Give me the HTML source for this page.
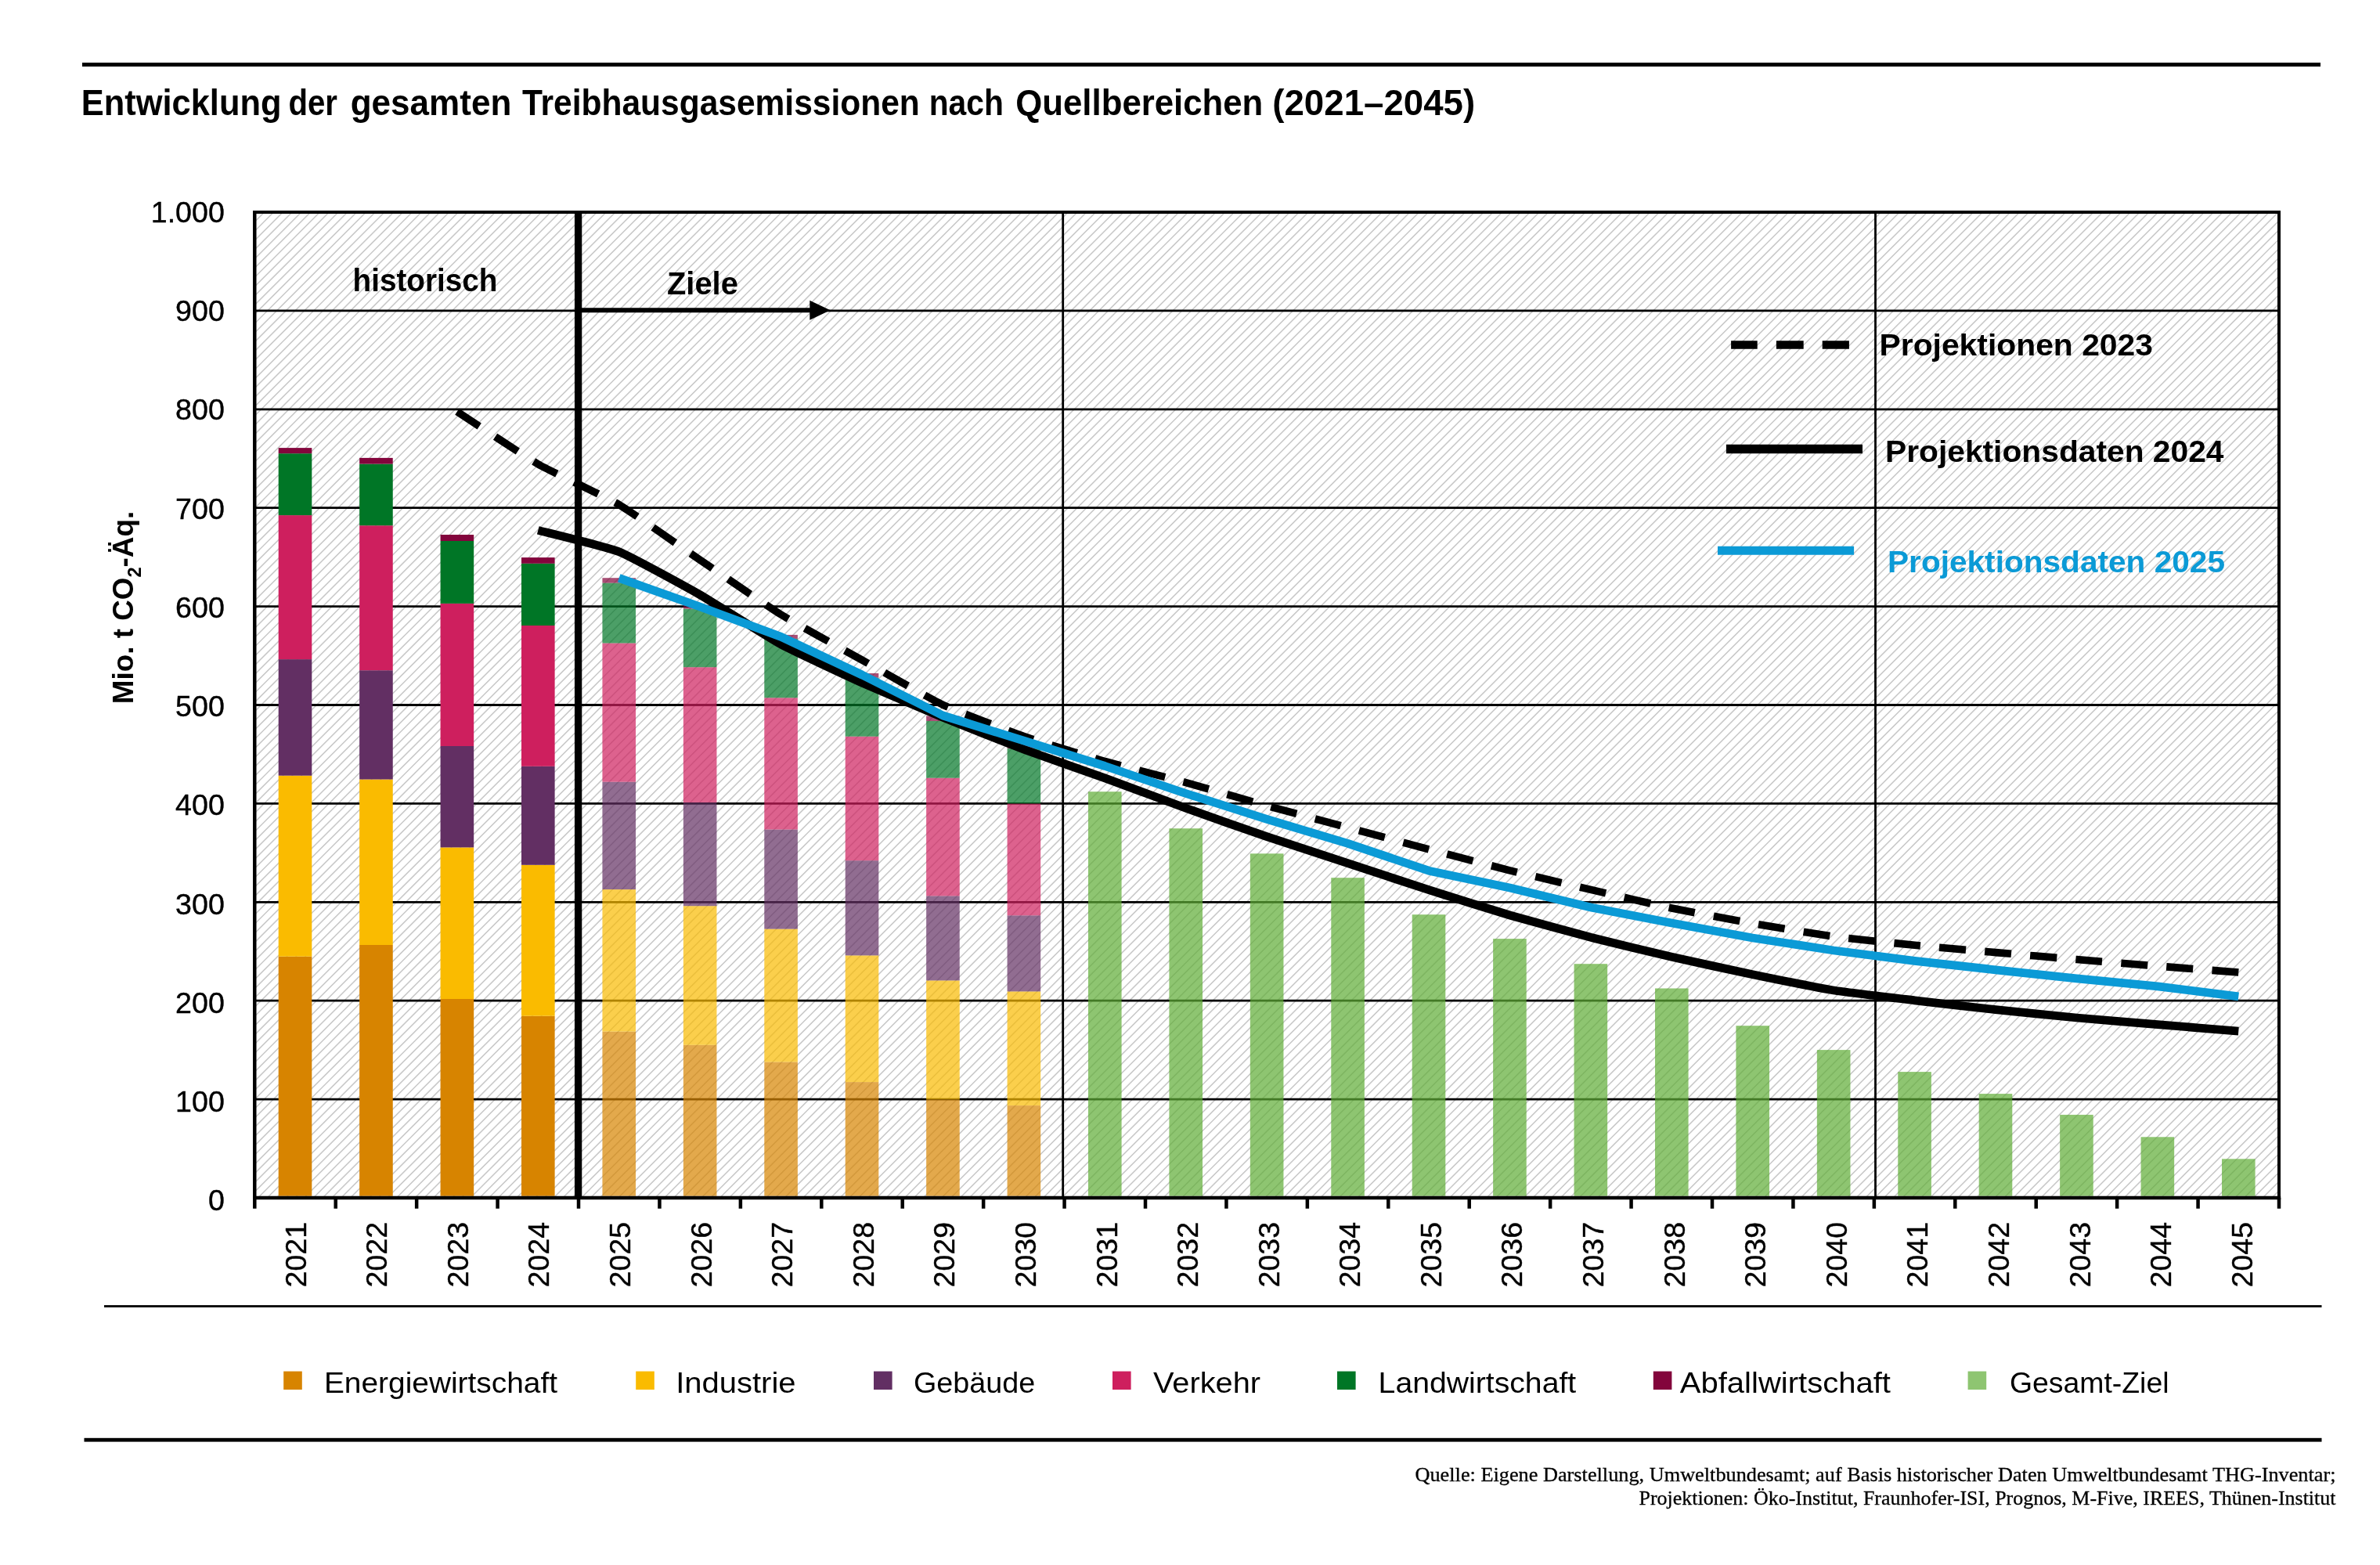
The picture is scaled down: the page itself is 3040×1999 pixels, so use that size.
<!DOCTYPE html>
<html lang="de"><head><meta charset="utf-8">
<title>Entwicklung der gesamten Treibhausgasemissionen nach Quellbereichen (2021–2045)</title>
<style>
html,body{margin:0;padding:0;background:#fff;}
body{width:3040px;height:1999px;overflow:hidden;}
svg{display:block;}
text{font-family:"Liberation Sans",sans-serif;fill:#000;}
svg{will-change:transform;}
.b{font-weight:bold;}
.t{stroke:#000;stroke-width:0.4px;}
.s{font-family:"Liberation Serif",serif;stroke:#000;stroke-width:0.3px;}
</style></head><body>
<svg width="3040" height="1999" viewBox="0 0 3040 1999">
<rect x="0" y="0" width="3040" height="1999" fill="#fff"/>
<rect x="105" y="80" width="2859" height="5" fill="#000"/>
<rect x="133" y="1667.1" width="2832.5" height="2.8" fill="#000"/>
<rect x="107.5" y="1836.8" width="2858" height="4.8" fill="#000"/>
<text class="b" x="103.7" y="146.9" font-size="46" textLength="255.84" lengthAdjust="spacingAndGlyphs">Entwicklung</text>
<text class="b" x="368.4" y="146.9" font-size="46" textLength="62.47" lengthAdjust="spacingAndGlyphs">der</text>
<text class="b" x="447.7" y="146.9" font-size="46" textLength="205.61" lengthAdjust="spacingAndGlyphs">gesamten</text>
<text class="b" x="666.9" y="146.9" font-size="46" textLength="507.89" lengthAdjust="spacingAndGlyphs">Treibhausgasemissionen</text>
<text class="b" x="1186.7" y="146.9" font-size="46" textLength="95.24" lengthAdjust="spacingAndGlyphs">nach</text>
<text class="b" x="1297.3" y="146.9" font-size="46" textLength="316" lengthAdjust="spacingAndGlyphs">Quellbereichen</text>
<text class="b" x="1625.3" y="146.9" font-size="46" textLength="258.8" lengthAdjust="spacingAndGlyphs">(2021–2045)</text>
<defs><clipPath id="pc"><rect x="325.3" y="271" width="2585.7" height="1259"/></clipPath></defs>
<path clip-path="url(#pc)" d="M-935.1 1532L327.9 269M-923.3 1532L339.7 269M-911.5 1532L351.5 269M-899.7 1532L363.3 269M-887.9 1532L375.1 269M-876.1 1532L386.9 269M-864.3 1532L398.7 269M-852.5 1532L410.5 269M-840.7 1532L422.3 269M-828.9 1532L434.1 269M-817.1 1532L445.9 269M-805.3 1532L457.7 269M-793.5 1532L469.5 269M-781.7 1532L481.3 269M-769.9 1532L493.1 269M-758.1 1532L504.9 269M-746.3 1532L516.7 269M-734.5 1532L528.5 269M-722.7 1532L540.3 269M-710.9 1532L552.1 269M-699.1 1532L563.9 269M-687.3 1532L575.7 269M-675.5 1532L587.5 269M-663.7 1532L599.3 269M-651.9 1532L611.1 269M-640.1 1532L622.9 269M-628.3 1532L634.7 269M-616.5 1532L646.5 269M-604.7 1532L658.3 269M-592.9 1532L670.1 269M-581.1 1532L681.9 269M-569.3 1532L693.7 269M-557.5 1532L705.5 269M-545.7 1532L717.3 269M-533.9 1532L729.1 269M-522.1 1532L740.9 269M-510.3 1532L752.7 269M-498.5 1532L764.5 269M-486.7 1532L776.3 269M-474.9 1532L788.1 269M-463.1 1532L799.9 269M-451.3 1532L811.7 269M-439.5 1532L823.5 269M-427.7 1532L835.3 269M-415.9 1532L847.1 269M-404.1 1532L858.9 269M-392.3 1532L870.7 269M-380.5 1532L882.5 269M-368.7 1532L894.3 269M-356.9 1532L906.1 269M-345.1 1532L917.9 269M-333.3 1532L929.7 269M-321.5 1532L941.5 269M-309.7 1532L953.3 269M-297.9 1532L965.1 269M-286.1 1532L976.9 269M-274.3 1532L988.7 269M-262.5 1532L1000.5 269M-250.7 1532L1012.3 269M-238.9 1532L1024.1 269M-227.1 1532L1035.9 269M-215.3 1532L1047.7 269M-203.5 1532L1059.5 269M-191.7 1532L1071.3 269M-179.9 1532L1083.1 269M-168.1 1532L1094.9 269M-156.3 1532L1106.7 269M-144.5 1532L1118.5 269M-132.7 1532L1130.3 269M-120.9 1532L1142.1 269M-109.1 1532L1153.9 269M-97.3 1532L1165.7 269M-85.5 1532L1177.5 269M-73.7 1532L1189.3 269M-61.9 1532L1201.1 269M-50.1 1532L1212.9 269M-38.3 1532L1224.7 269M-26.5 1532L1236.5 269M-14.7 1532L1248.3 269M-2.9 1532L1260.1 269M8.9 1532L1271.9 269M20.7 1532L1283.7 269M32.5 1532L1295.5 269M44.3 1532L1307.3 269M56.1 1532L1319.1 269M67.9 1532L1330.9 269M79.7 1532L1342.7 269M91.5 1532L1354.5 269M103.3 1532L1366.3 269M115.1 1532L1378.1 269M126.9 1532L1389.9 269M138.7 1532L1401.7 269M150.5 1532L1413.5 269M162.3 1532L1425.3 269M174.1 1532L1437.1 269M185.9 1532L1448.9 269M197.7 1532L1460.7 269M209.5 1532L1472.5 269M221.3 1532L1484.3 269M233.1 1532L1496.1 269M244.9 1532L1507.9 269M256.7 1532L1519.7 269M268.5 1532L1531.5 269M280.3 1532L1543.3 269M292.1 1532L1555.1 269M303.9 1532L1566.9 269M315.7 1532L1578.7 269M327.5 1532L1590.5 269M339.3 1532L1602.3 269M351.1 1532L1614.1 269M362.9 1532L1625.9 269M374.7 1532L1637.7 269M386.5 1532L1649.5 269M398.3 1532L1661.3 269M410.1 1532L1673.1 269M421.9 1532L1684.9 269M433.7 1532L1696.7 269M445.5 1532L1708.5 269M457.3 1532L1720.3 269M469.1 1532L1732.1 269M480.9 1532L1743.9 269M492.7 1532L1755.7 269M504.5 1532L1767.5 269M516.3 1532L1779.3 269M528.1 1532L1791.1 269M539.9 1532L1802.9 269M551.7 1532L1814.7 269M563.5 1532L1826.5 269M575.3 1532L1838.3 269M587.1 1532L1850.1 269M598.9 1532L1861.9 269M610.7 1532L1873.7 269M622.5 1532L1885.5 269M634.3 1532L1897.3 269M646.1 1532L1909.1 269M657.9 1532L1920.9 269M669.7 1532L1932.7 269M681.5 1532L1944.5 269M693.3 1532L1956.3 269M705.1 1532L1968.1 269M716.9 1532L1979.9 269M728.7 1532L1991.7 269M740.5 1532L2003.5 269M752.3 1532L2015.3 269M764.1 1532L2027.1 269M775.9 1532L2038.9 269M787.7 1532L2050.7 269M799.5 1532L2062.5 269M811.3 1532L2074.3 269M823.1 1532L2086.1 269M834.9 1532L2097.9 269M846.7 1532L2109.7 269M858.5 1532L2121.5 269M870.3 1532L2133.3 269M882.1 1532L2145.1 269M893.9 1532L2156.9 269M905.7 1532L2168.7 269M917.5 1532L2180.5 269M929.3 1532L2192.3 269M941.1 1532L2204.1 269M952.9 1532L2215.9 269M964.7 1532L2227.7 269M976.5 1532L2239.5 269M988.3 1532L2251.3 269M1000.1 1532L2263.1 269M1011.9 1532L2274.9 269M1023.7 1532L2286.7 269M1035.5 1532L2298.5 269M1047.3 1532L2310.3 269M1059.1 1532L2322.1 269M1070.9 1532L2333.9 269M1082.7 1532L2345.7 269M1094.5 1532L2357.5 269M1106.3 1532L2369.3 269M1118.1 1532L2381.1 269M1129.9 1532L2392.9 269M1141.7 1532L2404.7 269M1153.5 1532L2416.5 269M1165.3 1532L2428.3 269M1177.1 1532L2440.1 269M1188.9 1532L2451.9 269M1200.7 1532L2463.7 269M1212.5 1532L2475.5 269M1224.3 1532L2487.3 269M1236.1 1532L2499.1 269M1247.9 1532L2510.9 269M1259.7 1532L2522.7 269M1271.5 1532L2534.5 269M1283.3 1532L2546.3 269M1295.1 1532L2558.1 269M1306.9 1532L2569.9 269M1318.7 1532L2581.7 269M1330.5 1532L2593.5 269M1342.3 1532L2605.3 269M1354.1 1532L2617.1 269M1365.9 1532L2628.9 269M1377.7 1532L2640.7 269M1389.5 1532L2652.5 269M1401.3 1532L2664.3 269M1413.1 1532L2676.1 269M1424.9 1532L2687.9 269M1436.7 1532L2699.7 269M1448.5 1532L2711.5 269M1460.3 1532L2723.3 269M1472.1 1532L2735.1 269M1483.9 1532L2746.9 269M1495.7 1532L2758.7 269M1507.5 1532L2770.5 269M1519.3 1532L2782.3 269M1531.1 1532L2794.1 269M1542.9 1532L2805.9 269M1554.7 1532L2817.7 269M1566.5 1532L2829.5 269M1578.3 1532L2841.3 269M1590.1 1532L2853.1 269M1601.9 1532L2864.9 269M1613.7 1532L2876.7 269M1625.5 1532L2888.5 269M1637.3 1532L2900.3 269M1649.1 1532L2912.1 269M1660.9 1532L2923.9 269M1672.7 1532L2935.7 269M1684.5 1532L2947.5 269M1696.3 1532L2959.3 269M1708.1 1532L2971.1 269M1719.9 1532L2982.9 269M1731.7 1532L2994.7 269M1743.5 1532L3006.5 269M1755.3 1532L3018.3 269M1767.1 1532L3030.1 269M1778.9 1532L3041.9 269M1790.7 1532L3053.7 269M1802.5 1532L3065.5 269M1814.3 1532L3077.3 269M1826.1 1532L3089.1 269M1837.9 1532L3100.9 269M1849.7 1532L3112.7 269M1861.5 1532L3124.5 269M1873.3 1532L3136.3 269M1885.1 1532L3148.1 269M1896.9 1532L3159.9 269M1908.7 1532L3171.7 269M1920.5 1532L3183.5 269M1932.3 1532L3195.3 269M1944.1 1532L3207.1 269M1955.9 1532L3218.9 269M1967.7 1532L3230.7 269M1979.5 1532L3242.5 269M1991.3 1532L3254.3 269M2003.1 1532L3266.1 269M2014.9 1532L3277.9 269M2026.7 1532L3289.7 269M2038.5 1532L3301.5 269M2050.3 1532L3313.3 269M2062.1 1532L3325.1 269M2073.9 1532L3336.9 269M2085.7 1532L3348.7 269M2097.5 1532L3360.5 269M2109.3 1532L3372.3 269M2121.1 1532L3384.1 269M2132.9 1532L3395.9 269M2144.7 1532L3407.7 269M2156.5 1532L3419.5 269M2168.3 1532L3431.3 269M2180.1 1532L3443.1 269M2191.9 1532L3454.9 269M2203.7 1532L3466.7 269M2215.5 1532L3478.5 269M2227.3 1532L3490.3 269M2239.1 1532L3502.1 269M2250.9 1532L3513.9 269M2262.7 1532L3525.7 269M2274.5 1532L3537.5 269M2286.3 1532L3549.3 269M2298.1 1532L3561.1 269M2309.9 1532L3572.9 269M2321.7 1532L3584.7 269M2333.5 1532L3596.5 269M2345.3 1532L3608.3 269M2357.1 1532L3620.1 269M2368.9 1532L3631.9 269M2380.7 1532L3643.7 269M2392.5 1532L3655.5 269M2404.3 1532L3667.3 269M2416.1 1532L3679.1 269M2427.9 1532L3690.9 269M2439.7 1532L3702.7 269M2451.5 1532L3714.5 269M2463.3 1532L3726.3 269M2475.1 1532L3738.1 269M2486.9 1532L3749.9 269M2498.7 1532L3761.7 269M2510.5 1532L3773.5 269M2522.3 1532L3785.3 269M2534.1 1532L3797.1 269M2545.9 1532L3808.9 269M2557.7 1532L3820.7 269M2569.5 1532L3832.5 269M2581.3 1532L3844.3 269M2593.1 1532L3856.1 269M2604.9 1532L3867.9 269M2616.7 1532L3879.7 269M2628.5 1532L3891.5 269M2640.3 1532L3903.3 269M2652.1 1532L3915.1 269M2663.9 1532L3926.9 269M2675.7 1532L3938.7 269M2687.5 1532L3950.5 269M2699.3 1532L3962.3 269M2711.1 1532L3974.1 269M2722.9 1532L3985.9 269M2734.7 1532L3997.7 269M2746.5 1532L4009.5 269M2758.3 1532L4021.3 269M2770.1 1532L4033.1 269M2781.9 1532L4044.9 269M2793.7 1532L4056.7 269M2805.5 1532L4068.5 269M2817.3 1532L4080.3 269M2829.1 1532L4092.1 269M2840.9 1532L4103.9 269M2852.7 1532L4115.7 269M2864.5 1532L4127.5 269M2876.3 1532L4139.3 269M2888.1 1532L4151.1 269M2899.9 1532L4162.9 269M2911.7 1532L4174.7 269" stroke="#c8c8c8" stroke-width="1.55" fill="none"/>
<path d="M325.3 1404.1H2911M325.3 1278.2H2911M325.3 1152.3H2911M325.3 1026.4H2911M325.3 900.5H2911M325.3 774.6H2911M325.3 648.7H2911M325.3 522.8H2911M325.3 396.9H2911" stroke="#000" stroke-width="2.8" fill="none"/>
<line x1="1357.7" y1="271" x2="1357.7" y2="1530" stroke="#000" stroke-width="2.8"/>
<line x1="2395.5" y1="271" x2="2395.5" y2="1530" stroke="#000" stroke-width="2.8"/>
<rect x="355.71" y="1221.7" width="42.6" height="306" fill="#D78400"/>
<rect x="355.71" y="990.7" width="42.6" height="231" fill="#FABB00"/>
<rect x="355.71" y="842.1" width="42.6" height="148.6" fill="#622F63"/>
<rect x="355.71" y="658.1" width="42.6" height="184" fill="#CE1F5E"/>
<rect x="355.71" y="579.2" width="42.6" height="78.9" fill="#007626"/>
<rect x="355.71" y="572.1" width="42.6" height="7.1" fill="#83053C"/>
<rect x="459.14" y="1207" width="42.6" height="320.7" fill="#D78400"/>
<rect x="459.14" y="995.5" width="42.6" height="211.5" fill="#FABB00"/>
<rect x="459.14" y="856.2" width="42.6" height="139.3" fill="#622F63"/>
<rect x="459.14" y="671.2" width="42.6" height="185" fill="#CE1F5E"/>
<rect x="459.14" y="592.6" width="42.6" height="78.6" fill="#007626"/>
<rect x="459.14" y="584.9" width="42.6" height="7.7" fill="#83053C"/>
<rect x="562.57" y="1276" width="42.6" height="251.7" fill="#D78400"/>
<rect x="562.57" y="1082.4" width="42.6" height="193.6" fill="#FABB00"/>
<rect x="562.57" y="953" width="42.6" height="129.4" fill="#622F63"/>
<rect x="562.57" y="770.9" width="42.6" height="182.1" fill="#CE1F5E"/>
<rect x="562.57" y="691" width="42.6" height="79.9" fill="#007626"/>
<rect x="562.57" y="683" width="42.6" height="8" fill="#83053C"/>
<rect x="666" y="1297.7" width="42.6" height="230" fill="#D78400"/>
<rect x="666" y="1104.8" width="42.6" height="192.9" fill="#FABB00"/>
<rect x="666" y="978.8" width="42.6" height="126" fill="#622F63"/>
<rect x="666" y="799" width="42.6" height="179.8" fill="#CE1F5E"/>
<rect x="666" y="719.8" width="42.6" height="79.2" fill="#007626"/>
<rect x="666" y="712.1" width="42.6" height="7.7" fill="#83053C"/>
<rect x="769.43" y="1317.6" width="42.6" height="210.1" fill="#D78400" fill-opacity="0.7"/>
<rect x="769.43" y="1136.1" width="42.6" height="181.5" fill="#FABB00" fill-opacity="0.7"/>
<rect x="769.43" y="998.7" width="42.6" height="137.4" fill="#622F63" fill-opacity="0.7"/>
<rect x="769.43" y="821.5" width="42.6" height="177.2" fill="#CE1F5E" fill-opacity="0.7"/>
<rect x="769.43" y="744.6" width="42.6" height="76.9" fill="#007626" fill-opacity="0.7"/>
<rect x="769.43" y="738.2" width="42.6" height="6.4" fill="#83053C" fill-opacity="0.7"/>
<rect x="872.85" y="1334.8" width="42.6" height="192.9" fill="#D78400" fill-opacity="0.7"/>
<rect x="872.85" y="1157.2" width="42.6" height="177.6" fill="#FABB00" fill-opacity="0.7"/>
<rect x="872.85" y="1025" width="42.6" height="132.2" fill="#622F63" fill-opacity="0.7"/>
<rect x="872.85" y="852.2" width="42.6" height="172.8" fill="#CE1F5E" fill-opacity="0.7"/>
<rect x="872.85" y="777.6" width="42.6" height="74.6" fill="#007626" fill-opacity="0.7"/>
<rect x="872.85" y="772.7" width="42.6" height="4.9" fill="#83053C" fill-opacity="0.7"/>
<rect x="976.28" y="1356.5" width="42.6" height="171.2" fill="#D78400" fill-opacity="0.7"/>
<rect x="976.28" y="1186.6" width="42.6" height="169.9" fill="#FABB00" fill-opacity="0.7"/>
<rect x="976.28" y="1059.5" width="42.6" height="127.1" fill="#622F63" fill-opacity="0.7"/>
<rect x="976.28" y="891.3" width="42.6" height="168.2" fill="#CE1F5E" fill-opacity="0.7"/>
<rect x="976.28" y="815.9" width="42.6" height="75.4" fill="#007626" fill-opacity="0.7"/>
<rect x="976.28" y="810.9" width="42.6" height="5" fill="#83053C" fill-opacity="0.7"/>
<rect x="1079.71" y="1382.1" width="42.6" height="145.6" fill="#D78400" fill-opacity="0.7"/>
<rect x="1079.71" y="1220.4" width="42.6" height="161.7" fill="#FABB00" fill-opacity="0.7"/>
<rect x="1079.71" y="1099.2" width="42.6" height="121.2" fill="#622F63" fill-opacity="0.7"/>
<rect x="1079.71" y="940.7" width="42.6" height="158.5" fill="#CE1F5E" fill-opacity="0.7"/>
<rect x="1079.71" y="865.6" width="42.6" height="75.1" fill="#007626" fill-opacity="0.7"/>
<rect x="1079.71" y="860" width="42.6" height="5.6" fill="#83053C" fill-opacity="0.7"/>
<rect x="1183.14" y="1404.4" width="42.6" height="123.3" fill="#D78400" fill-opacity="0.7"/>
<rect x="1183.14" y="1252.4" width="42.6" height="152" fill="#FABB00" fill-opacity="0.7"/>
<rect x="1183.14" y="1144.4" width="42.6" height="108" fill="#622F63" fill-opacity="0.7"/>
<rect x="1183.14" y="993.7" width="42.6" height="150.7" fill="#CE1F5E" fill-opacity="0.7"/>
<rect x="1183.14" y="921" width="42.6" height="72.7" fill="#007626" fill-opacity="0.7"/>
<rect x="1183.14" y="914.4" width="42.6" height="6.6" fill="#83053C" fill-opacity="0.7"/>
<rect x="1286.57" y="1412.1" width="42.6" height="115.6" fill="#D78400" fill-opacity="0.7"/>
<rect x="1286.57" y="1266.4" width="42.6" height="145.7" fill="#FABB00" fill-opacity="0.7"/>
<rect x="1286.57" y="1169.3" width="42.6" height="97.1" fill="#622F63" fill-opacity="0.7"/>
<rect x="1286.57" y="1026.4" width="42.6" height="142.9" fill="#CE1F5E" fill-opacity="0.7"/>
<rect x="1286.57" y="955.9" width="42.6" height="70.5" fill="#007626" fill-opacity="0.7"/>
<rect x="1286.57" y="950.9" width="42.6" height="5" fill="#83053C" fill-opacity="0.7"/>
<rect x="1389.99" y="1011.2" width="42.6" height="516.5" fill="#5EAD35" fill-opacity="0.7"/>
<rect x="1493.42" y="1058.2" width="42.6" height="469.5" fill="#5EAD35" fill-opacity="0.7"/>
<rect x="1596.85" y="1090.3" width="42.6" height="437.4" fill="#5EAD35" fill-opacity="0.7"/>
<rect x="1700.28" y="1121.2" width="42.6" height="406.5" fill="#5EAD35" fill-opacity="0.7"/>
<rect x="1803.71" y="1168.2" width="42.6" height="359.5" fill="#5EAD35" fill-opacity="0.7"/>
<rect x="1907.13" y="1199.1" width="42.6" height="328.6" fill="#5EAD35" fill-opacity="0.7"/>
<rect x="2010.56" y="1231.2" width="42.6" height="296.5" fill="#5EAD35" fill-opacity="0.7"/>
<rect x="2113.99" y="1262.5" width="42.6" height="265.2" fill="#5EAD35" fill-opacity="0.7"/>
<rect x="2217.42" y="1310.2" width="42.6" height="217.5" fill="#5EAD35" fill-opacity="0.7"/>
<rect x="2320.85" y="1341.1" width="42.6" height="186.6" fill="#5EAD35" fill-opacity="0.7"/>
<rect x="2424.27" y="1369.1" width="42.6" height="158.6" fill="#5EAD35" fill-opacity="0.7"/>
<rect x="2527.7" y="1397.1" width="42.6" height="130.6" fill="#5EAD35" fill-opacity="0.7"/>
<rect x="2631.13" y="1423.9" width="42.6" height="103.8" fill="#5EAD35" fill-opacity="0.7"/>
<rect x="2734.56" y="1452.3" width="42.6" height="75.4" fill="#5EAD35" fill-opacity="0.7"/>
<rect x="2837.99" y="1480.3" width="42.6" height="47.4" fill="#5EAD35" fill-opacity="0.7"/>
<rect x="325.3" y="271" width="2585.7" height="1259" fill="none" stroke="#000" stroke-width="4"/>
<line x1="323.1" y1="1530" x2="2913.2" y2="1530" stroke="#000" stroke-width="4.7"/>
<line x1="325.2" y1="269" x2="325.2" y2="1532" stroke="#000" stroke-width="4.2"/>
<path d="M325.3 1530V1543.7M428.73 1530V1543.7M532.16 1530V1543.7M635.58 1530V1543.7M739.01 1530V1543.7M842.44 1530V1543.7M945.87 1530V1543.7M1049.3 1530V1543.7M1152.72 1530V1543.7M1256.15 1530V1543.7M1359.58 1530V1543.7M1463.01 1530V1543.7M1566.44 1530V1543.7M1669.86 1530V1543.7M1773.29 1530V1543.7M1876.72 1530V1543.7M1980.15 1530V1543.7M2083.58 1530V1543.7M2187 1530V1543.7M2290.43 1530V1543.7M2393.86 1530V1543.7M2497.29 1530V1543.7M2600.72 1530V1543.7M2704.14 1530V1543.7M2807.57 1530V1543.7M2911 1530V1543.7" stroke="#000" stroke-width="4.5" fill="none"/>
<line x1="738.61" y1="271" x2="738.61" y2="1530" stroke="#000" stroke-width="9.3"/>
<line x1="738.61" y1="396.3" x2="1040" y2="396.3" stroke="#000" stroke-width="6"/>
<path d="M1034.3 383.8L1060.6 396.3L1034.3 408.8Z" fill="#000"/>
<path d="M583.87 525.8C591.26 530.59 672.52 584.31 687.3 592.8C702.07 601.29 775.95 635.86 790.73 644.6C805.5 653.34 879.38 705.17 894.15 715.2C908.93 725.23 982.81 775.87 997.58 785C1012.36 794.13 1086.23 834.76 1101.01 843C1115.79 851.24 1189.66 893.34 1204.44 900.3C1219.21 907.26 1293.09 935.34 1307.87 940.5C1322.64 945.66 1396.52 968.28 1411.29 972.5C1426.07 976.72 1499.95 995.55 1514.72 999.6C1529.5 1003.65 1603.37 1025.1 1618.15 1029.2C1632.93 1033.3 1706.8 1053.03 1721.58 1057C1736.35 1060.97 1810.23 1080.89 1825.01 1084.8C1839.78 1088.71 1913.66 1108.11 1928.43 1111.8C1943.21 1115.49 2017.09 1132.96 2031.86 1136.4C2046.64 1139.84 2120.51 1156.92 2135.29 1160C2150.07 1163.08 2223.94 1176.91 2238.72 1179.5C2253.49 1182.09 2327.37 1194.31 2342.15 1196.3C2356.92 1198.29 2430.8 1205.85 2445.57 1207.3C2460.35 1208.75 2534.23 1215.3 2549 1216.6C2563.78 1217.9 2637.65 1224.26 2652.43 1225.5C2667.21 1226.74 2741.08 1232.82 2755.86 1234C2770.63 1235.18 2851.9 1241.43 2859.29 1242" fill="none" stroke="#000" stroke-width="9.6" stroke-dasharray="34 24.25"/>
<path d="M687.3 677.4C694.69 679.36 775.95 698.91 790.73 704.8C805.5 710.69 879.38 751.36 894.15 759.8C908.93 768.24 982.81 814.99 997.58 823C1012.36 831.01 1086.23 865.33 1101.01 872C1115.79 878.67 1189.66 910.31 1204.44 916.4C1219.21 922.49 1293.09 951.77 1307.87 957.3C1322.64 962.83 1396.52 988.44 1411.29 993.8C1426.07 999.16 1499.95 1026.96 1514.72 1032.3C1529.5 1037.64 1603.37 1063.57 1618.15 1068.6C1632.93 1073.63 1706.8 1097.84 1721.58 1102.7C1736.35 1107.56 1810.23 1131.96 1825.01 1136.7C1839.78 1141.44 1913.66 1164.67 1928.43 1169C1943.21 1173.33 2017.09 1193.49 2031.86 1197.3C2046.64 1201.11 2120.51 1218.91 2135.29 1222.3C2150.07 1225.69 2223.94 1241.65 2238.72 1244.7C2253.49 1247.75 2327.37 1262.64 2342.15 1265C2356.92 1267.36 2430.8 1276.04 2445.57 1277.8C2460.35 1279.56 2534.23 1288.01 2549 1289.6C2563.78 1291.19 2637.65 1298.64 2652.43 1300C2667.21 1301.36 2741.08 1307.37 2755.86 1308.6C2770.63 1309.83 2851.9 1316.59 2859.29 1317.2" fill="none" stroke="#000" stroke-width="10.8"/>
<polyline points="790.73,738.4 894.15,775 997.58,813.4 1101.01,862 1204.44,914 1307.87,946.2 1411.29,978.5 1514.72,1013.5 1618.15,1046.4 1721.58,1077.3 1825.01,1112.2 1928.43,1134 2031.86,1159 2135.29,1179 2238.72,1198 2342.15,1214 2445.57,1227.4 2549,1238.8 2652.43,1249.8 2755.86,1259.8 2859.29,1272.8" fill="none" stroke="#0B9AD6" stroke-width="10.8" stroke-linejoin="round"/>
<text class="b" x="450.5" y="372.1" font-size="40" textLength="185" lengthAdjust="spacingAndGlyphs">historisch</text>
<text class="b" x="852" y="376.3" font-size="40.5" textLength="90.8" lengthAdjust="spacingAndGlyphs">Ziele</text>
<path d="M2211.1 440.4H2244.7M2268.9 440.4H2303.7M2327.7 440.4H2361.9" stroke="#000" stroke-width="10.5" fill="none"/>
<line x1="2204.9" y1="573.6" x2="2379" y2="573.6" stroke="#000" stroke-width="11.5"/>
<line x1="2194" y1="703.2" x2="2368.1" y2="703.2" stroke="#0B9AD6" stroke-width="11"/>
<text class="b" x="2400.5" y="453.5" font-size="38.2" textLength="349.5" lengthAdjust="spacingAndGlyphs">Projektionen 2023</text>
<text class="b" x="2408" y="590.3" font-size="38.2" textLength="432.5" lengthAdjust="spacingAndGlyphs">Projektionsdaten 2024</text>
<text class="b" x="2411" y="730.5" font-size="38.2" textLength="431" lengthAdjust="spacingAndGlyphs" style="fill:#0B9AD6">Projektionsdaten 2025</text>
<text class="t" x="265.9" y="1546.3" font-size="36" textLength="20.9" lengthAdjust="spacingAndGlyphs">0</text>
<text class="t" x="224.1" y="1420.06" font-size="36" textLength="62.7" lengthAdjust="spacingAndGlyphs">100</text>
<text class="t" x="224.1" y="1293.82" font-size="36" textLength="62.7" lengthAdjust="spacingAndGlyphs">200</text>
<text class="t" x="224.1" y="1167.58" font-size="36" textLength="62.7" lengthAdjust="spacingAndGlyphs">300</text>
<text class="t" x="224.1" y="1041.34" font-size="36" textLength="62.7" lengthAdjust="spacingAndGlyphs">400</text>
<text class="t" x="224.1" y="915.1" font-size="36" textLength="62.7" lengthAdjust="spacingAndGlyphs">500</text>
<text class="t" x="224.1" y="788.86" font-size="36" textLength="62.7" lengthAdjust="spacingAndGlyphs">600</text>
<text class="t" x="224.1" y="662.62" font-size="36" textLength="62.7" lengthAdjust="spacingAndGlyphs">700</text>
<text class="t" x="224.1" y="536.38" font-size="36" textLength="62.7" lengthAdjust="spacingAndGlyphs">800</text>
<text class="t" x="224.1" y="410.14" font-size="36" textLength="62.7" lengthAdjust="spacingAndGlyphs">900</text>
<text class="t" x="192.8" y="283.9" font-size="36" textLength="94" lengthAdjust="spacingAndGlyphs">1.000</text>
<text class="b" transform="translate(170 899.3) rotate(-90)" font-size="37.6" textLength="246.5" lengthAdjust="spacingAndGlyphs">Mio. t CO<tspan font-size="24" dy="9.5">2</tspan><tspan dy="-9.5">-Äq.</tspan></text>
<text transform="translate(390.6 1644.4) rotate(-90)" class="t" font-size="36" textLength="83.4" lengthAdjust="spacingAndGlyphs">2021</text>
<text transform="translate(494.19 1644.4) rotate(-90)" class="t" font-size="36" textLength="83.4" lengthAdjust="spacingAndGlyphs">2022</text>
<text transform="translate(597.78 1644.4) rotate(-90)" class="t" font-size="36" textLength="83.4" lengthAdjust="spacingAndGlyphs">2023</text>
<text transform="translate(701.37 1644.4) rotate(-90)" class="t" font-size="36" textLength="83.4" lengthAdjust="spacingAndGlyphs">2024</text>
<text transform="translate(804.96 1644.4) rotate(-90)" class="t" font-size="36" textLength="83.4" lengthAdjust="spacingAndGlyphs">2025</text>
<text transform="translate(908.55 1644.4) rotate(-90)" class="t" font-size="36" textLength="83.4" lengthAdjust="spacingAndGlyphs">2026</text>
<text transform="translate(1012.14 1644.4) rotate(-90)" class="t" font-size="36" textLength="83.4" lengthAdjust="spacingAndGlyphs">2027</text>
<text transform="translate(1115.73 1644.4) rotate(-90)" class="t" font-size="36" textLength="83.4" lengthAdjust="spacingAndGlyphs">2028</text>
<text transform="translate(1219.32 1644.4) rotate(-90)" class="t" font-size="36" textLength="83.4" lengthAdjust="spacingAndGlyphs">2029</text>
<text transform="translate(1322.91 1644.4) rotate(-90)" class="t" font-size="36" textLength="83.4" lengthAdjust="spacingAndGlyphs">2030</text>
<text transform="translate(1426.5 1644.4) rotate(-90)" class="t" font-size="36" textLength="83.4" lengthAdjust="spacingAndGlyphs">2031</text>
<text transform="translate(1530.09 1644.4) rotate(-90)" class="t" font-size="36" textLength="83.4" lengthAdjust="spacingAndGlyphs">2032</text>
<text transform="translate(1633.68 1644.4) rotate(-90)" class="t" font-size="36" textLength="83.4" lengthAdjust="spacingAndGlyphs">2033</text>
<text transform="translate(1737.27 1644.4) rotate(-90)" class="t" font-size="36" textLength="83.4" lengthAdjust="spacingAndGlyphs">2034</text>
<text transform="translate(1840.86 1644.4) rotate(-90)" class="t" font-size="36" textLength="83.4" lengthAdjust="spacingAndGlyphs">2035</text>
<text transform="translate(1944.45 1644.4) rotate(-90)" class="t" font-size="36" textLength="83.4" lengthAdjust="spacingAndGlyphs">2036</text>
<text transform="translate(2048.04 1644.4) rotate(-90)" class="t" font-size="36" textLength="83.4" lengthAdjust="spacingAndGlyphs">2037</text>
<text transform="translate(2151.63 1644.4) rotate(-90)" class="t" font-size="36" textLength="83.4" lengthAdjust="spacingAndGlyphs">2038</text>
<text transform="translate(2255.22 1644.4) rotate(-90)" class="t" font-size="36" textLength="83.4" lengthAdjust="spacingAndGlyphs">2039</text>
<text transform="translate(2358.81 1644.4) rotate(-90)" class="t" font-size="36" textLength="83.4" lengthAdjust="spacingAndGlyphs">2040</text>
<text transform="translate(2462.4 1644.4) rotate(-90)" class="t" font-size="36" textLength="83.4" lengthAdjust="spacingAndGlyphs">2041</text>
<text transform="translate(2565.99 1644.4) rotate(-90)" class="t" font-size="36" textLength="83.4" lengthAdjust="spacingAndGlyphs">2042</text>
<text transform="translate(2669.58 1644.4) rotate(-90)" class="t" font-size="36" textLength="83.4" lengthAdjust="spacingAndGlyphs">2043</text>
<text transform="translate(2773.17 1644.4) rotate(-90)" class="t" font-size="36" textLength="83.4" lengthAdjust="spacingAndGlyphs">2044</text>
<text transform="translate(2876.76 1644.4) rotate(-90)" class="t" font-size="36" textLength="83.4" lengthAdjust="spacingAndGlyphs">2045</text>
<rect x="362.2" y="1751.6" width="23.6" height="23.4" fill="#D78400"/>
<text x="413.9" y="1778.7" font-size="36" textLength="298.2" lengthAdjust="spacingAndGlyphs">Energiewirtschaft</text>
<rect x="812.2" y="1751.6" width="23.6" height="23.4" fill="#FABB00"/>
<text x="863.2" y="1778.7" font-size="36" textLength="153.3" lengthAdjust="spacingAndGlyphs">Industrie</text>
<rect x="1116" y="1751.6" width="23.6" height="23.4" fill="#622F63"/>
<text x="1167" y="1778.7" font-size="36" textLength="155.2" lengthAdjust="spacingAndGlyphs">Gebäude</text>
<rect x="1421" y="1751.6" width="23.6" height="23.4" fill="#CE1F5E"/>
<text x="1473" y="1778.7" font-size="36" textLength="137.1" lengthAdjust="spacingAndGlyphs">Verkehr</text>
<rect x="1708" y="1751.6" width="23.6" height="23.4" fill="#007626"/>
<text x="1760.6" y="1778.7" font-size="36" textLength="252.6" lengthAdjust="spacingAndGlyphs">Landwirtschaft</text>
<rect x="2111.8" y="1751.6" width="23.6" height="23.4" fill="#83053C"/>
<text x="2145.8" y="1778.7" font-size="36" textLength="269.1" lengthAdjust="spacingAndGlyphs">Abfallwirtschaft</text>
<rect x="2513.6" y="1751.6" width="23.6" height="23.4" fill="#5EAD35" fill-opacity="0.7"/>
<text x="2566.9" y="1778.7" font-size="36" textLength="203.6" lengthAdjust="spacingAndGlyphs">Gesamt-Ziel</text>
<text class="s" x="2983.5" y="1892.4" font-size="24.7" text-anchor="end" textLength="1176" lengthAdjust="spacingAndGlyphs">Quelle: Eigene Darstellung, Umweltbundesamt; auf Basis historischer Daten Umweltbundesamt THG-Inventar;</text>
<text class="s" x="2983.5" y="1922" font-size="24.7" text-anchor="end" textLength="890" lengthAdjust="spacingAndGlyphs">Projektionen: Öko-Institut, Fraunhofer-ISI, Prognos, M-Five, IREES, Thünen-Institut</text>
</svg></body></html>
